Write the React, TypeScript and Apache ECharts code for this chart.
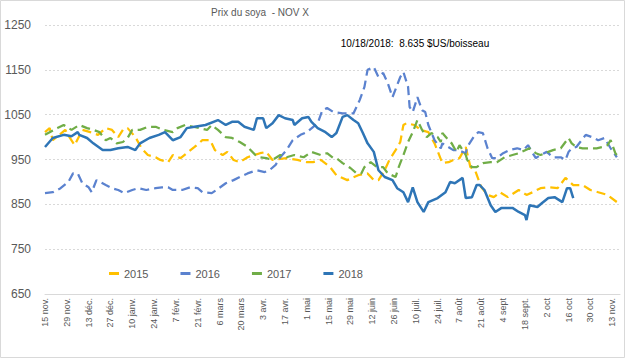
import React, { useEffect, useRef } from "react";
import * as echarts from "echarts";

const tickLabels = [
  "15 nov.", "29 nov.", "13 déc.", "27 déc.", "10 janv.", "24 janv.", "7 févr.",
  "21 févr.", "6 mars", "20 mars", "3 avr.", "17 avr.", "1 mai", "15 mai", "29 mai",
  "12 juin", "26 juin", "10 juil.", "24 juil.", "7 août", "21 août", "4 sept",
  "18 sept.", "2 oct", "16 oct", "30 oct", "13 nov.",
];

const seriesNames = ["2015", "2016", "2017", "2018"];

// [days since 15 nov., price in ¢US/boisseau]
const s2015: [number, number][] = [
  [0, 1011], [3, 1020], [5, 993], [13, 1016], [16, 998], [19, 982], [24, 1016], [29, 1011],
  [34, 1005], [39, 1020], [43, 1016], [47, 1000], [50, 1016], [53, 1020], [58, 1000], [62, 975],
  [66, 960], [71, 955], [74, 949], [79, 944], [82, 960], [87, 953], [92, 967], [96, 978],
  [101, 993], [106, 993], [109, 971], [114, 960], [117, 967], [121, 949], [125, 944], [130, 955],
  [138, 964], [142, 967], [146, 949], [155, 953], [162, 949], [168, 944], [172, 944], [177, 949],
  [183, 933], [187, 915], [194, 904], [201, 915], [207, 919], [211, 904], [214, 904], [218, 926],
  [221, 949], [225, 971], [228, 989], [230, 1027], [232, 1031], [237, 1027], [241, 1016], [246, 1011],
  [250, 986], [255, 942], [259, 944], [262, 949], [266, 953], [270, 978], [273, 933], [276, 926],
  [280, 888], [284, 871], [288, 866], [292, 877], [297, 866], [304, 882], [309, 871], [313, 877],
  [318, 886], [323, 888], [329, 886], [334, 909], [339, 893], [345, 893], [350, 882], [355, 877],
  [361, 871], [367, 855],
];

const s2016: [number, number][] = [
  [0, 875], [5, 877], [10, 886], [15, 900], [18, 919], [21, 919], [24, 897], [28, 888],
  [30, 877], [33, 904], [39, 893], [43, 886], [47, 882], [51, 875], [56, 882], [60, 886],
  [65, 882], [71, 886], [75, 888], [79, 888], [82, 882], [88, 882], [93, 888], [98, 886],
  [101, 877], [107, 875], [110, 882], [116, 897], [121, 904], [125, 911], [130, 919], [136, 926],
  [141, 922], [144, 926], [148, 938], [151, 955], [155, 971], [159, 993], [164, 1005], [168, 1011],
  [175, 1031], [178, 1060], [181, 1065], [185, 1056], [191, 1053], [198, 1053], [202, 1083], [205, 1112],
  [207, 1150], [211, 1156], [214, 1134], [217, 1143], [220, 1120], [223, 1089], [228, 1134], [230, 1145],
  [233, 1112], [234, 1067], [236, 1056], [239, 1089], [242, 1060], [244, 1056], [246, 1027], [250, 993],
  [254, 975], [255, 986], [262, 971], [265, 971], [270, 964], [271, 978], [275, 1000], [278, 1011],
  [281, 1009], [284, 975], [287, 953], [290, 953], [294, 964], [298, 971], [303, 975], [307, 971],
  [310, 982], [313, 964], [315, 953], [318, 960], [322, 967], [326, 955], [331, 955], [334, 949],
  [336, 967], [338, 975], [341, 978], [347, 1005], [351, 1000], [355, 993], [359, 998], [363, 975],
  [367, 955],
];

const s2017: [number, number][] = [
  [0, 1005], [8, 1020], [12, 1027], [17, 1016], [22, 1027], [27, 1020], [31, 1016], [35, 1011],
  [39, 993], [42, 998], [46, 986], [50, 989], [53, 998], [56, 1016], [61, 1016], [66, 1023],
  [71, 1023], [76, 1016], [82, 1011], [85, 1020], [90, 1027], [95, 1023], [99, 1020], [104, 1016],
  [107, 1027], [111, 1016], [116, 1000], [120, 998], [125, 989], [130, 978], [135, 960], [138, 955],
  [142, 953], [146, 949], [151, 960], [155, 955], [160, 960], [166, 955], [171, 967], [177, 960],
  [181, 964], [185, 953], [187, 953], [191, 942], [196, 931], [200, 919], [203, 919], [205, 933],
  [209, 944], [213, 933], [217, 933], [220, 919], [225, 911], [227, 933], [230, 960], [233, 989],
  [236, 1011], [239, 1038], [242, 1016], [245, 1000], [248, 1009], [252, 1000], [254, 989], [255, 1009],
  [259, 993], [261, 986], [264, 967], [266, 982], [270, 960], [271, 949], [274, 933], [277, 933],
  [281, 942], [286, 944], [290, 944], [295, 955], [300, 960], [304, 964], [311, 975], [315, 964],
  [318, 960], [323, 967], [326, 971], [331, 975], [334, 989], [336, 998], [338, 986], [341, 978],
  [345, 975], [350, 975], [354, 975], [358, 978], [361, 982], [363, 993], [366, 964], [368, 955],
];

const s2018: [number, number][] = [
  [0, 978], [5, 998], [12, 1005], [17, 1002], [21, 1011], [22, 1005], [27, 998], [31, 986],
  [37, 971], [42, 971], [47, 975], [53, 978], [58, 971], [61, 986], [67, 998], [73, 1005],
  [77, 1011], [82, 993], [87, 1000], [91, 1020], [96, 1023], [103, 1027], [111, 1038], [116, 1027],
  [120, 1034], [124, 1034], [128, 1023], [134, 1016], [136, 1042], [140, 1042], [142, 1020], [146, 1031],
  [150, 1049], [154, 1042], [159, 1038], [160, 1027], [165, 1042], [169, 1045], [171, 1034], [175, 1020],
  [180, 1011], [184, 1000], [187, 1009], [191, 1045], [194, 1049], [198, 1038], [201, 1031], [204, 1009],
  [207, 986], [211, 967], [214, 926], [218, 911], [223, 904], [226, 886], [230, 877], [233, 855],
  [236, 888], [239, 855], [243, 833], [246, 855], [252, 864], [257, 877], [260, 900], [263, 897],
  [268, 909], [270, 864], [274, 866], [277, 893], [279, 893], [282, 882], [286, 848], [289, 833],
  [293, 842], [300, 842], [304, 833], [308, 826], [309, 815], [311, 848], [316, 844], [319, 853],
  [323, 864], [327, 866], [332, 855], [335, 886], [337, 886], [339, 864],
];

const colors = ["#FFC000", "#5B82CF", "#70AD47", "#2E75B6"];
const FONT = "'Liberation Sans', Arial, sans-serif";

export default function App() {
  const ref = useRef<HTMLDivElement>(null);
  useEffect(() => {
    document.body.style.margin = "0";
    if (!ref.current) return;
    const chart = echarts.init(ref.current, undefined, { renderer: "svg" });
    const dashed = (name: string, data: [number, number][], color: string) => ({
      name,
      type: "line",
      data,
      symbol: "none",
      smooth: false,
      itemStyle: { color },
      lineStyle: { color, width: 2.25, type: [9, 5] },
      z: 2,
    });
    chart.setOption({
      animation: false,
      textStyle: { fontFamily: FONT },
      grid: { left: 45, right: 5, top: 25, bottom: 64 },
      legend: {
        left: 104,
        top: 263,
        icon: "rect",
        itemWidth: 10,
        itemHeight: 3,
        itemGap: 32,
        textStyle: { fontSize: 11, color: "#595959", fontFamily: FONT },
        data: seriesNames,
      },
      xAxis: {
        type: "value",
        min: 0,
        max: 369,
        interval: 14,
        axisLine: { show: true, lineStyle: { color: "#d9d9d9", width: 1 } },
        axisTick: { show: false },
        splitLine: { show: false },
        axisLabel: {
          rotate: 90,
          fontSize: 9,
          color: "#595959",
          margin: 4,
          fontFamily: FONT,
          showMaxLabel: false,
          formatter: (v: number) => (v % 14 === 0 ? tickLabels[v / 14] ?? "" : ""),
        },
      },
      yAxis: {
        type: "value",
        min: 650,
        max: 1250,
        interval: 100,
        axisLine: { show: false },
        axisTick: { show: false },
        splitLine: { lineStyle: { color: "#d9d9d9", type: [2, 2], width: 1 } },
        axisLabel: {
          fontSize: 12,
          color: "#595959",
          margin: 14,
          fontFamily: FONT,
          formatter: (v: number) => String(v),
        },
      },
      graphic: [
        {
          type: "rect",
          shape: { x: 0.5, y: 0.5, width: 624, height: 357 },
          style: { fill: "none", stroke: "#d9d9d9", lineWidth: 1 },
          silent: true,
        },
        {
          type: "text",
          x: 260,
          y: 12,
          style: {
            text: "Prix du soya  - NOV X",
            textAlign: "center",
            textVerticalAlign: "middle",
            fontSize: 10,
            fill: "#595959",
            fontFamily: FONT,
          },
        },
        {
          type: "text",
          x: 415,
          y: 43,
          style: {
            text: "10/18/2018:  8.635 $US/boisseau",
            textAlign: "center",
            textVerticalAlign: "middle",
            fontSize: 10,
            fill: "#000000",
            fontFamily: FONT,
          },
        },
      ],
      series: [
        dashed("2015", s2015, colors[0]),
        dashed("2016", s2016, colors[1]),
        dashed("2017", s2017, colors[2]),
        {
          name: "2018",
          type: "line",
          data: s2018,
          symbol: "none",
          itemStyle: { color: colors[3] },
          lineStyle: { color: colors[3], width: 2.5 },
          z: 3,
        },
      ],
    });
    return () => chart.dispose();
  }, []);
  return <div ref={ref} style={{ width: 625, height: 358 }} />;
}
